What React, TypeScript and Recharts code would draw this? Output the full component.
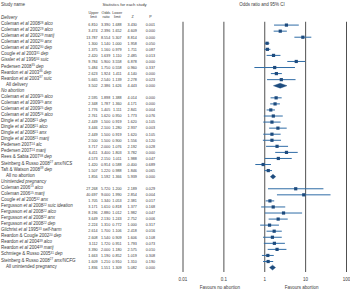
import React from 'react';
import { ScatterChart, Scatter, XAxis, YAxis, ErrorBar, ReferenceLine } from 'recharts';

const FONT = '"Liberation Sans", Arial, Helvetica, sans-serif';
const TEXT = '#3a3a3a';
const NAVY = '#1d4b7e';
const CI_BLUE = '#2f6ca6';
const GRID = '#505050';
const FS = 4.5;
const NFS = 3.7;

// ---- data ----
const rowLabels: string[] = [
  '|Delivery|',
  'Coleman |et al| 2008^28 |alco|',
  'Coleman |et al| 2002^29 |alco|',
  'Coleman |et al| 2002^29 |marij|',
  'Coleman |et al| 2002^30 |anx|',
  'Coleman |et al| 2002^30 |dep|',
  'Cougle |et al| 2003^31 |dep|',
  'Gissler |et al| 1996^34 |suic|',
  'Pedersen 2008^35 |dep|',
  'Reardon |et al| 2003^36 |dep|',
  'Reardon |et al| 2003^37 |suic|',
  'All delivery',
  '|No abortion|',
  'Coleman |et al| 2009^25 |alco|',
  'Coleman |et al| 2009^25 |anx|',
  'Coleman |et al| 2009^25 |dep|',
  'Coleman |et al| 2005^26 |alco|',
  'Dingle |et al| 2008^21 |dep|',
  'Dingle |et al| 2008^21 |alco|',
  'Dingle |et al| 2008^21 |anx|',
  'Dingle |et al| 2008^21 |marij|',
  'Pedersen 2007^24 |alc|',
  'Pedersen 2007^24 |marij|',
  'Rees & Sabia 2007^38 |dep|',
  'Steinberg & Russo 2008^27 |anx/NCS|',
  'Taft & Watson 2008^39 |dep|',
  'All no abortion',
  '|Unintended pregnancy|',
  'Coleman 2006^15 |alco|',
  'Coleman 2006^15 |marij|',
  'Cougle |et al| 2005^32 |anx|',
  'Fergusson |et al| 2008^22 |suic ideation|',
  'Fergusson |et al| 2008^22 |alco|',
  'Fergusson |et al| 2008^22 |anx|',
  'Fergusson |et al| 2008^22 |dep|',
  'Gilchrist |et al| 1995^33 |self-harm|',
  'Reardon & Cougle 2002^20 |dep|',
  'Reardon |et al| 2004^39 |alco|',
  'Reardon |et al| 2004^39 |marij|',
  'Schmiege & Russo 2005^31 |dep|',
  'Steinberg & Russo 2008^27 |anx/NCFG|',
  'All unintended pregnancy',
];

const rowKinds: string[] = [
  'group', 'study', 'study', 'study', 'study', 'study', 'study', 'study', 'study', 'study', 'study', 'summary',
  'group', 'study', 'study', 'study', 'study', 'study', 'study', 'study', 'study', 'study', 'study', 'study', 'study', 'study', 'summary',
  'group', 'study', 'study', 'study', 'study', 'study', 'study', 'study', 'study', 'study', 'study', 'study', 'study', 'study', 'summary',
];

const upperLimits: (number | null)[] = [
  null, 6.810, 3.474, 13.787, 1.300, 1.375, 2.420, 9.784, 5.484, 2.623, 5.665, 3.502,
  null, 2.595, 2.348, 1.776, 2.761, 2.449, 3.446, 2.449, 2.500, 3.717, 6.411, 4.573, 1.420, 1.507, 1.856,
  null, 27.268, 40.697, 1.705, 3.171, 8.196, 3.649, 2.224, 2.614, 2.608, 3.112, 3.390, 1.663, 1.609, 1.836,
];

const oddsRatios: (number | null)[] = [
  null, 3.390, 2.396, 8.554, 1.140, 1.160, 1.639, 5.900, 1.750, 1.924, 2.540, 2.386,
  null, 1.898, 1.787, 1.405, 1.620, 1.500, 2.100, 1.500, 1.500, 2.000, 3.400, 2.150, 0.914, 1.220, 1.592,
  null, 5.720, 9.000, 1.340, 1.610, 2.880, 2.130, 1.310, 1.700, 1.540, 1.720, 2.000, 1.190, 1.210, 1.551,
];

const lowerLimits: (number | null)[] = [
  null, 1.688, 1.652, 5.307, 1.000, 0.979, 1.110, 3.558, 0.558, 1.411, 1.139, 1.626,
  null, 1.388, 1.360, 1.111, 0.950, 0.919, 1.280, 0.919, 0.900, 1.076, 1.803, 1.011, 0.588, 0.988, 1.366,
  null, 1.200, 1.990, 1.053, 0.818, 1.012, 1.243, 0.772, 1.106, 0.909, 0.951, 1.180, 0.852, 0.910, 1.309,
];

const zValues: (number | null)[] = [
  null, 3.430, 4.609, 8.814, 1.958, 1.711, 2.485, 6.878, 0.960, 4.140, 2.278, 4.443,
  null, 4.014, 4.171, 2.841, 1.773, 1.620, 2.937, 1.620, 1.556, 2.192, 3.782, 1.988, -0.400, 1.846, 5.939,
  null, 2.189, 2.854, 2.381, 1.377, 1.982, 2.752, 1.000, 2.418, 1.606, 1.793, 2.575, 1.019, 1.310, 5.082,
];

const pValues: (number | null)[] = [
  null, 0.001, 0.000, 0.000, 0.050, 0.087, 0.013, 0.000, 0.337, 0.000, 0.023, 0.000,
  null, 0.000, 0.000, 0.004, 0.076, 0.105, 0.003, 0.105, 0.120, 0.028, 0.000, 0.047, 0.689, 0.065, 0.000,
  null, 0.029, 0.004, 0.017, 0.168, 0.047, 0.006, 0.317, 0.016, 0.108, 0.073, 0.010, 0.308, 0.190, 0.000,
];

const xTicks: number[] = [0.01, 0.1, 1, 10, 100];
const xTickLabels: string[] = ['0.01', '0.1', '1', '10', '100'];
const favourLabels: Record<string, string> = { '0.1': 'Favours no abortion', '10': 'Favours abortion' };

const statHeaders: { top: string; bottom: string; x: number }[] = [
  { top: 'Upper', bottom: 'limit', x: 93.5 },
  { top: 'Odds', bottom: 'ratio', x: 106 },
  { top: 'Lower', bottom: 'limit', x: 117.3 },
  { top: '', bottom: 'Z', x: 132.6 },
  { top: '', bottom: 'P', x: 150.6 },
];
const statRight: number[] = [97.6, 110.2, 121.6, 136.8, 155];

// ---- derived chart data ----
const rowNumbers = rowLabels.map((_, i) => i + 1);

const studyPoints = rowKinds
  .map((k, i) => ({ k, i }))
  .filter((d) => d.k === 'study')
  .map(({ i }) => ({
    row: i + 1,
    or: oddsRatios[i] as number,
    err: [(oddsRatios[i] as number) - (lowerLimits[i] as number), (upperLimits[i] as number) - (oddsRatios[i] as number)],
  }));

const diamondSets = rowKinds
  .map((k, i) => ({ k, i }))
  .filter((d) => d.k === 'summary')
  .map(({ i }) => [
    { row: i + 1, or: lowerLimits[i] as number },
    { row: i + 1 - 0.4, or: oddsRatios[i] as number },
    { row: i + 1, or: upperLimits[i] as number },
    { row: i + 1 + 0.4, or: oddsRatios[i] as number },
  ]);

const fmt = (v: number | null) => (v === null ? '' : v.toFixed(3));

function renderLabel(s: string) {
  const parts = s.split(/(\|[^|]*\||\^\d+)/).filter((p) => p !== '');
  const out: React.ReactNode[] = [];
  let sup = false;
  parts.forEach((p, k) => {
    if (p.startsWith('|')) {
      out.push(
        <tspan key={k} fontStyle="italic" dy={sup ? 1.3 : 0}>
          {p.slice(1, -1)}
        </tspan>
      );
      sup = false;
    } else if (p.startsWith('^')) {
      out.push(
        <tspan key={k} fontSize={FS * 0.65} dy={-1.3}>
          {p.slice(1)}
        </tspan>
      );
      sup = true;
    } else {
      out.push(
        <tspan key={k} dy={sup ? 1.3 : 0}>
          {p}
        </tspan>
      );
      sup = false;
    }
  });
  return out;
}

const RowTick = (props: any) => {
  const { y, payload } = props;
  const i = Math.round(payload.value) - 1;
  const kind = rowKinds[i];
  const vals = [upperLimits[i], oddsRatios[i], lowerLimits[i], zValues[i], pValues[i]];
  return (
    <g fontFamily={FONT} fill={TEXT}>
      <text x={kind === 'summary' ? 6 : 1} y={y} dy="0.35em" textAnchor="start" fontSize={FS} fill={TEXT}>
        {renderLabel(rowLabels[i])}
      </text>
      {kind !== 'group' &&
        vals.map((v, c) => (
          <text key={c} x={statRight[c]} y={y} dy="0.35em" textAnchor="end" fontSize={NFS} fill={TEXT}>
            {fmt(v)}
          </text>
        ))}
    </g>
  );
};

const XTick = (props: any) => {
  const { x, y, payload } = props;
  const idx = xTicks.indexOf(payload.value);
  const label = idx >= 0 ? xTickLabels[idx] : String(payload.value);
  const fav = favourLabels[label];
  return (
    <g fontFamily={FONT} fontSize={FS} fill={TEXT}>
      <text x={x} y={y + 9} textAnchor="middle" fill={TEXT}>
        {label}
      </text>
      {fav && (
        <text x={x - 4} y={y + 16.8} textAnchor="middle" fill={TEXT}>
          {fav}
        </text>
      )}
    </g>
  );
};

const Square = (props: any) => {
  const { cx, cy } = props;
  const s = 3.2;
  return <rect x={cx - s / 2} y={cy - s / 2} width={s} height={s} fill={NAVY} />;
};

const Nothing = () => <g />;

const Diamond = (props: any) => {
  const pts = (props.points || []).map((p: any) => `${p.x},${p.y}`).join(' ');
  return <polygon points={pts} fill={NAVY} stroke={NAVY} strokeWidth={0.4} />;
};

export default function App() {
  return (
    <div style={{ position: 'absolute', left: 0, top: 0, width: 350, height: 290, background: '#fff' }}>
      <ScatterChart width={350} height={290} margin={{ top: 16, right: 3.5, bottom: 0, left: 0 }}>
        <XAxis
          type="number"
          dataKey="or"
          scale="log"
          domain={[0.01, 100]}
          ticks={xTicks}
          interval={0}
          allowDataOverflow
          axisLine={false}
          tickLine={false}
          tickSize={0}
          tickMargin={0}
          height={18}
          tick={<XTick />}
        />
        <YAxis
          type="number"
          dataKey="row"
          domain={[0.5, 42.73]}
          reversed
          ticks={rowNumbers}
          interval={0}
          allowDataOverflow
          axisLine={false}
          tickLine={false}
          width={183}
          tick={<RowTick />}
        />
        {xTicks.map((t) => (
          <ReferenceLine
            key={t}
            segment={[
              { x: t, y: 1.45 },
              { x: t, y: 42.73 },
            ]}
            stroke={GRID}
            strokeWidth={1}
            ifOverflow="visible"
          />
        ))}
        <Scatter data={studyPoints} shape={<Square />} isAnimationActive={false}>
          <ErrorBar dataKey="err" direction="x" width={0} stroke={CI_BLUE} strokeWidth={1} isAnimationActive={false} />
        </Scatter>
        {diamondSets.map((d, k) => (
          <Scatter
            key={k}
            data={d}
            shape={<Nothing />}
            line={(p: any) => <Diamond {...p} />}
            lineJointType="linear"
            isAnimationActive={false}
          />
        ))}
        <g fontFamily={FONT} fill={TEXT}>
          <text x={1} y={5.5} fontSize={FS} fill={TEXT}>Study name</text>
          <text x={124.5} y={5.5} textAnchor="middle" fontSize={4.2} fill={TEXT}>Statistics for each study</text>
          <text x={262} y={5.5} textAnchor="middle" fontSize={FS} fill={TEXT}>Odds ratio and 95% CI</text>
          {statHeaders.map((h, k) => (
            <g key={k} fontSize={NFS}>
              {h.top && (
                <text x={h.x} y={14} textAnchor="middle" fill={TEXT}>
                  {h.top}
                </text>
              )}
              <text x={h.x} y={17.8} textAnchor="middle" fill={TEXT}>
                {h.bottom}
              </text>
            </g>
          ))}
        </g>
      </ScatterChart>
    </div>
  );
}
